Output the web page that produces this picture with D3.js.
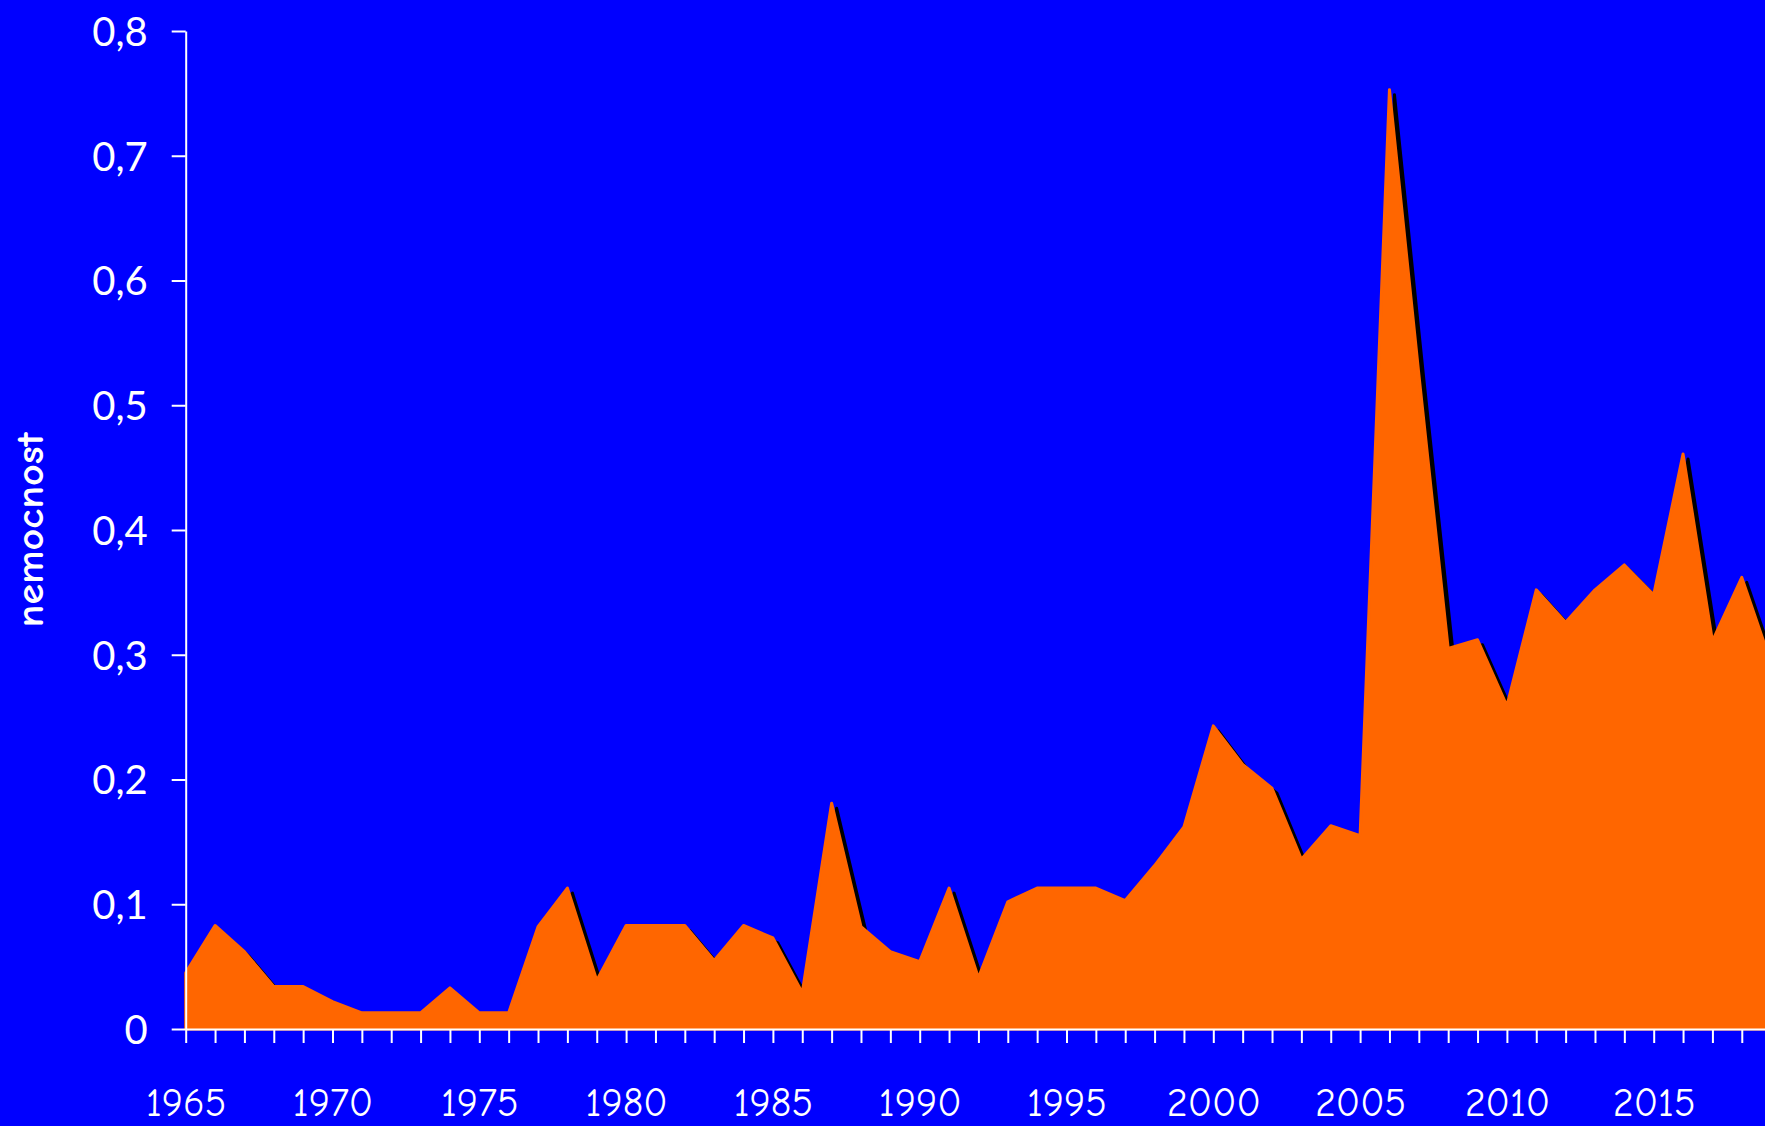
<!DOCTYPE html>
<html>
<head>
<meta charset="utf-8">
<script src="https://cdn.jsdelivr.net/npm/d3@7"></script>
<style>
  html, body { margin: 0; padding: 0; background: #0000FF; overflow: hidden; }
  svg { display: block; }
</style>
</head>
<body>
<svg id="chart" width="1765" height="1126"></svg>
<script>
const years = [1965,1966,1967,1968,1969,1970,1971,1972,1973,1974,
               1975,1976,1977,1978,1979,1980,1981,1982,1983,1984,
               1985,1986,1987,1988,1989,1990,1991,1992,1993,1994,
               1995,1996,1997,1998,1999,2000,2001,2002,2003,2004,
               2005,2006,2007,2008,2009,2010,2011,2012,2013,2014,
               2015,2016,2017,2018,2019];
const nemocnost = [0.045,0.083,0.062,0.034,0.034,0.022,0.013,0.013,0.013,0.033,
                   0.013,0.013,0.082,0.113,0.039,0.083,0.083,0.083,0.055,0.083,
                   0.073,0.029,0.181,0.082,0.062,0.054,0.113,0.041,0.102,0.113,
                   0.113,0.113,0.103,0.131,0.162,0.243,0.212,0.193,0.136,0.163,
                   0.155,0.753,0.525,0.305,0.312,0.259,0.352,0.326,0.352,0.372,
                   0.348,0.461,0.311,0.362,0.293];
const yTicks = [0,0.1,0.2,0.3,0.4,0.5,0.6,0.7,0.8];
const yTickLabels = ["0","0,1","0,2","0,3","0,4","0,5","0,6","0,7","0,8"];
const xLabelYears = [1965,1970,1975,1980,1985,1990,1995,2000,2005,2010,2015];
const yTitle = "nemocnost";

const data = years.map((yr, i) => ({year: yr, value: nemocnost[i]}));

const svg = d3.select("#chart");
const W = 1765, H = 1126;
svg.append("rect").attr("width", W).attr("height", H).attr("fill", "#0000FF");

const x0 = 185.7, step = 29.36;
const x = d3.scaleLinear().domain([1965, 2019]).range([x0, x0 + 54 * step]);
const y = d3.scaleLinear().domain([0, 0.8]).range([1029, 31]);

const area = d3.area()
  .x(d => x(d.year))
  .y0(y(0))
  .y1(d => y(d.value));

const defs = svg.append("defs");
defs.append("clipPath").attr("id", "plotclip")
  .append("rect").attr("x", 0).attr("y", 0).attr("width", W).attr("height", y(0));

// shadow
svg.append("g").attr("clip-path", "url(#plotclip)")
  .append("path")
  .datum(data)
  .attr("d", area)
  .attr("transform", "translate(5,5)")
  .attr("fill", "#000000")
  .attr("stroke", "#000000")
  .attr("stroke-width", 3)
  .attr("stroke-linejoin", "round");

// orange area
svg.append("path")
  .datum(data)
  .attr("d", area)
  .attr("fill", "#FF6600")
  .attr("stroke", "#FF6600")
  .attr("stroke-width", 3)
  .attr("stroke-linejoin", "round");

// y axis
const yAxis = d3.axisLeft(y)
  .tickValues(yTicks)
  .tickFormat((d, i) => yTickLabels[i])
  .tickSize(14)
  .tickSizeOuter(0)
  .tickPadding(24);
const gy = svg.append("g").attr("transform", `translate(${x0},0)`).call(yAxis);
gy.select(".domain").attr("stroke", "#FFFFFF").attr("stroke-width", 2);
gy.selectAll(".tick line").attr("stroke", "#FFFFFF").attr("stroke-width", 2);
gy.selectAll(".tick text")
  .attr("fill", "#FFFFFF")
  .attr("font-family", "Lato, 'Noto Sans', sans-serif")
  .attr("font-size", 40)
  .attr("dy", "0.36em");

// x axis
const xAxis = d3.axisBottom(x)
  .tickValues(years)
  .tickFormat(d => xLabelYears.includes(d) ? String(d) : "")
  .tickSize(14)
  .tickSizeOuter(0)
  .tickPadding(44);
const gx = svg.append("g").attr("transform", `translate(0,${y(0)})`).call(xAxis);
gx.select(".domain").attr("stroke", "#FFFFFF").attr("stroke-width", 2);
gx.selectAll(".tick line").attr("stroke", "#FFFFFF").attr("stroke-width", 2);
gx.selectAll(".tick text")
  .attr("fill", "#FFFFFF")
  .attr("font-family", "'Comic Sans MS', 'Comic Neue', Lato, sans-serif")
  .attr("font-size", 40)
  .attr("y", 87)
  .attr("dy", null);

// y title
svg.append("text")
  .attr("transform", "translate(43,530) rotate(-90)")
  .attr("text-anchor", "middle")
  .attr("fill", "#FFFFFF")
  .attr("font-family", "'Comic Sans MS', 'Comic Neue', Lato, sans-serif")
  .attr("font-size", 38)
  .attr("font-weight", 600)
  .attr("textLength", 195)
  .attr("lengthAdjust", "spacingAndGlyphs")
  .text(yTitle);
</script>
</body>
</html>
